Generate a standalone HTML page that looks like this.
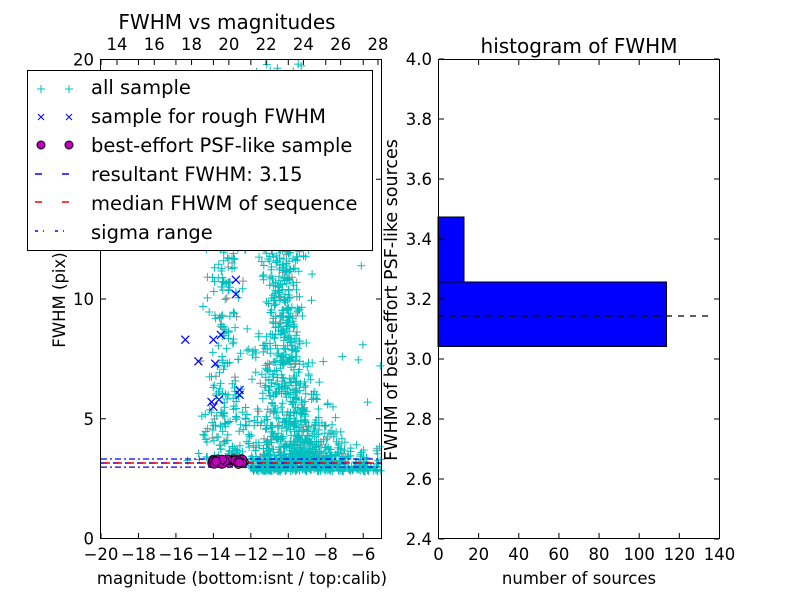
<!DOCTYPE html>
<html><head><meta charset="utf-8"><style>
html,body{margin:0;padding:0;background:#fff;}
svg{display:block;font-family:"DejaVu Sans","Liberation Sans",sans-serif;}
</style></head><body>
<svg id="s" width="800" height="600" viewBox="0 0 800 600" xmlns="http://www.w3.org/2000/svg">
<rect width="800" height="600" fill="#fff"/>
<g id="pts"></g>
<rect x="100.5" y="59.5" width="281" height="479" fill="none" stroke="#000" stroke-width="1"/>
<g id="lticks" stroke="#000" stroke-width="1"></g>
<g font-size="16.5" fill="#000">
<text x="227" y="29" text-anchor="middle" font-size="20">FWHM vs magnitudes</text>
<text x="242" y="584" text-anchor="middle">magnitude (bottom:isnt / top:calib)</text>
<text transform="translate(65,300) rotate(-90)" text-anchor="middle">FWHM (pix)</text>
</g>
<g id="ltext" font-size="16.5" fill="#000"></g>
<rect x="27.5" y="70.5" width="345" height="180" fill="#fff" stroke="#000" stroke-width="1"/>
<g font-size="19.5" fill="#000">
<text x="91" y="94">all sample</text>
<text x="91" y="123">sample for rough FWHM</text>
<text x="91" y="152">best-effort PSF-like sample</text>
<text x="91" y="181">resultant FWHM: 3.15</text>
<text x="91" y="210">median FHWM of sequence</text>
<text x="91" y="239">sigma range</text>
</g>
<g stroke-width="1">
<path d="M41 85v8M37 89h8M69 85v8M65 89h8" stroke="#00bfbf"/>
<path d="M38 114l6 6M44 114l-6 6M66 114l6 6M72 114l-6 6" stroke="#0000ff"/>
<circle cx="41" cy="145" r="4" fill="#bf00bf" stroke="#000"/>
<circle cx="69" cy="145" r="4" fill="#bf00bf" stroke="#000"/>
<path d="M35 174h7M62 174h7" stroke="#0000ff" stroke-width="1.5"/>
<path d="M35 202h7M62 202h7" stroke="#ff0000" stroke-width="1.5"/>
<path d="M35 231h3M43 231h1M55 231h3M63 231h1" stroke="#0000ff" stroke-width="1.5"/>
</g>
<rect x="438" y="282" width="228.5" height="64.5" fill="#0000ff" stroke="#000" stroke-width="1"/>
<rect x="438" y="217" width="26" height="65" fill="#0000ff" stroke="#000" stroke-width="1"/>
<line x1="438" y1="316" x2="713" y2="316" stroke="#000" stroke-width="1.3" stroke-dasharray="6,6"/>
<rect x="438.5" y="59.5" width="281" height="479" fill="none" stroke="#000" stroke-width="1"/>
<g id="rticks" stroke="#000" stroke-width="1"></g>
<g id="rtext" font-size="16.5" fill="#000"></g>
<g font-size="16.5" fill="#000">
<text x="579" y="53" text-anchor="middle" font-size="20">histogram of FWHM</text>
<text x="579" y="584" text-anchor="middle">number of sources</text>
<text transform="translate(397,300) rotate(-90)" text-anchor="middle" font-size="17.5">FWHM of best-effort PSF-like sources</text>
</g>
</svg>
<script>
(function(){
var NS="http://www.w3.org/2000/svg";
function el(p,t,a,txt){var e=document.createElementNS(NS,t);for(var k in a)e.setAttribute(k,a[k]);if(txt!==undefined)e.textContent=txt;p.appendChild(e);return e;}
var seed=12345;function r(){seed=(seed*1103515245+12345)%2147483648;return seed/2147483648;}
function g(){return (r()+r()+r()+r()-2)/1.15;}
function X(m){return 101+(m+20)*18.73;}function Y(f){return 538.5-f*23.95;}
var pts=document.getElementById('pts');
var d="",dg="";
function plus(m,f,gray){var x=X(m),y=Y(f);if(x<101||x>381||y<60||y>538)return;var s="M"+(x-4).toFixed(1)+" "+y.toFixed(1)+"h8M"+x.toFixed(1)+" "+(y-4).toFixed(1)+"v8";if(gray)dg+=s;else d+=s;}
var i;
// main cloud
for(i=0;i<1000;i++){var f=3.2+Math.pow(r(),2.2)*13;var w=1.0+(f<9?(9-f)*0.25:0);var m=-10.3+g()*w+(f<8?Math.abs(g())*(8-f)*0.45:0);plus(m,f,r()<0.1);}
for(i=0;i<90;i++){var f=11+r()*9;plus(-10.5+g()*1.6,f,false);}
// low band
for(i=0;i<350;i++){var m=-12+r()*7;var f=2.8+Math.abs(g())*(0.25+(m>-10?0.8:0.15)*r());plus(m,f,r()<0.1);}
// left column
for(i=0;i<260;i++){var f=3.3+Math.pow(r(),1.7)*13;var m=-13.3+g()*(0.9+(f<8?0.5:0));plus(m,f,r()<0.1);}
for(i=0;i<25;i++){plus(-16+r()*11,3+r()*9,false);}
el(pts,'path',{d:dg,stroke:'#888',fill:'none','stroke-width':1});
el(pts,'path',{d:d,stroke:'#00bfbf',fill:'none','stroke-width':1});
var bx=[[-15.6,12.2],[-15.5,8.3],[-14.8,7.4],[-14.0,8.3],[-13.6,8.5],[-13.9,7.3],[-14.0,5.5],[-13.7,5.8],[-12.6,6.0],[-12.6,6.2],[-12.8,10.8],[-12.8,10.2],[-14.1,5.7]];
var bd="";bx.forEach(function(p){var x=X(p[0]),y=Y(p[1]);bd+="M"+(x-4)+" "+(y-4)+"l8 8M"+(x+4)+" "+(y-4)+"l-8 8";});
el(pts,'line',{x1:101,x2:381,y1:Y(3.15),y2:Y(3.15),stroke:'#0000ff','stroke-width':1.5,'stroke-dasharray':'6,6'});
el(pts,'line',{x1:104,x2:381,y1:Y(3.15),y2:Y(3.15),stroke:'#ff0000','stroke-width':1.5,'stroke-dasharray':'6,6'});
el(pts,'line',{x1:101,x2:381,y1:Y(3.32),y2:Y(3.32),stroke:'#0000ff','stroke-width':1.3,'stroke-dasharray':'6,3,2,3'});
el(pts,'line',{x1:101,x2:381,y1:Y(2.98),y2:Y(2.98),stroke:'#0000ff','stroke-width':1.3,'stroke-dasharray':'6,3,2,3'});
el(pts,'path',{d:bd,stroke:'#0000ff',fill:'none','stroke-width':1.2});
for(i=0;i<45;i++){el(pts,'circle',{cx:X(-14.2+r()*1.9),cy:Y(3.1+r()*0.22),r:4.3,fill:'#bf00bf',stroke:'#000','stroke-width':0.8});}
var lt=document.getElementById('lticks'),lx=document.getElementById('ltext');
var td="";
for(var v=-20;v<=-6;v+=2){var x=X(v);td+="M"+x+" 538v-5M"+x+" 60v5";el(lx,'text',{x:x,y:560,'text-anchor':'middle'},(v<0?"\u2212":"")+Math.abs(v));}
for(var v=0;v<=20;v+=5){var y=Y(v);td+="M101 "+y+"h5M381 "+y+"h-5";el(lx,'text',{x:94,y:y+6,'text-anchor':'end'},v);}
for(var v=14;v<=28;v+=2){var x=117+(v-14)*18.64;td+="M"+x+" 60v5";el(lx,'text',{x:x,y:50,'text-anchor':'middle'},v);}
el(lt,'path',{d:td});
var rt=document.getElementById('rticks'),rx=document.getElementById('rtext');td="";
for(var v=0;v<=140;v+=20){var x=438.5+v*2.007;td+="M"+x+" 538v-5M"+x+" 60v5";el(rx,'text',{x:x,y:560,'text-anchor':'middle'},v);}
for(var k=0;k<=8;k++){var v=2.4+k*0.2;var y=539-k*60;td+="M439 "+y+"h5M719 "+y+"h-5";el(rx,'text',{x:432,y:y+6,'text-anchor':'end'},v.toFixed(1));}
el(rt,'path',{d:td});
})();
</script>
</body></html>
